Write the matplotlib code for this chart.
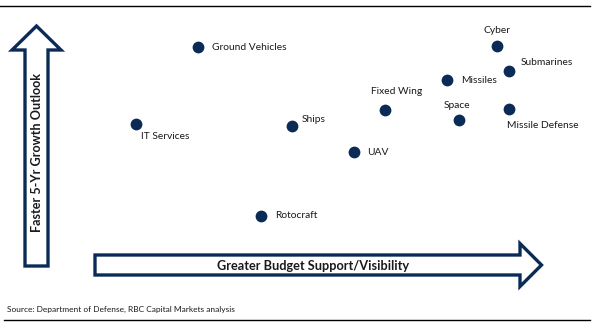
import matplotlib
matplotlib.use("Agg")
from matplotlib import pyplot as plt
from matplotlib.patches import Polygon
from matplotlib.lines import Line2D

plt.rcParams['font.family'] = ['Lato', 'DejaVu Sans']

NAVY = '#0b2b57'
TEXT = '#1a1a1a'

# budget support / visibility score (x) and 5-yr growth outlook score (y), 0-10
segments = ['Ground Vehicles', 'IT Services', 'Ships', 'Fixed Wing', 'Cyber',
            'Submarines', 'Missiles', 'Space', 'Missile Defense', 'UAV', 'Rotocraft']
budget_support = [2.23, 0.82, 4.36, 6.48, 9.02, 9.30, 7.89, 8.16, 9.30, 5.77, 3.66]
growth_outlook = [9.15, 5.30, 5.20, 6.00, 9.20, 7.95, 7.50, 5.50, 6.05, 3.90, 0.70]

# label placement: (dx, dy) in points, horizontal alignment
label_pos = {
    'Ground Vehicles': ((10, 0), 'left'),
    'IT Services': ((3.5, -9), 'left'),
    'Ships': ((7, 5), 'left'),
    'Fixed Wing': ((8.5, 13), 'center'),
    'Cyber': ((0, 11), 'center'),
    'Submarines': ((8.5, 5.8), 'left'),
    'Missiles': ((10, -0.7), 'left'),
    'Space': ((-1.4, 10.8), 'center'),
    'Missile Defense': ((-1.4, -12), 'left'),
    'UAV': ((9.4, -0.7), 'left'),
    'Rotocraft': ((10, 0.5), 'left'),
}

W, H = 596, 326
fig = plt.figure(figsize=(W / 100, H / 100), dpi=100)
fig.patch.set_facecolor('white')


def px(x, y):
    return (x / W, 1 - y / H)


ax = fig.add_axes([100 / W, 96 / H, 440 / W, 200 / H])
ax.set_xlim(0, 10)
ax.set_ylim(0, 10)
ax.axis('off')

ax.scatter(budget_support, growth_outlook, s=72, color=NAVY, zorder=3, linewidths=0)
for name, xv, yv in zip(segments, budget_support, growth_outlook):
    (dx, dy), ha = label_pos[name]
    ax.annotate(name, (xv, yv), xytext=(dx, dy), textcoords='offset points',
                ha=ha, va='center', fontsize=7.4, color=TEXT)

# vertical "growth" arrow
v_arrow = [px(25, 266), px(25, 50), px(12, 50), px(36.5, 26), px(61, 50),
           px(48, 50), px(48, 266)]
fig.add_artist(Polygon(v_arrow, closed=True, transform=fig.transFigure,
                       facecolor='white', edgecolor=NAVY, linewidth=2.4,
                       joinstyle='miter'))
fig.text(*px(37, 152.5), 'Faster 5-Yr Growth Outlook', rotation=90,
         ha='center', va='center', fontsize=9.1, fontweight='bold', color=TEXT)

# horizontal "budget" arrow
h_arrow = [px(95, 255), px(520, 255), px(520, 243.5), px(541.5, 265),
           px(520, 286.5), px(520, 275), px(95, 275)]
fig.add_artist(Polygon(h_arrow, closed=True, transform=fig.transFigure,
                       facecolor='white', edgecolor=NAVY, linewidth=2.4,
                       joinstyle='miter'))
fig.text(*px(313, 265.5), 'Greater Budget Support/Visibility',
         ha='center', va='center', fontsize=9.2, fontweight='bold', color=TEXT)

# rules top and bottom, and the source note
fig.add_artist(Line2D([0 / W, 590 / W], [1 - 6 / H, 1 - 6 / H],
                      transform=fig.transFigure, color='black', linewidth=1))
fig.add_artist(Line2D([4 / W, 590 / W], [1 - 320 / H, 1 - 320 / H],
                      transform=fig.transFigure, color='black', linewidth=1))
fig.text(*px(7, 309), 'Source: Department of Defense, RBC Capital Markets analysis',
         ha='left', va='center', fontsize=6.0, color=TEXT)

fig.savefig('out.png', dpi=100, facecolor='white')
